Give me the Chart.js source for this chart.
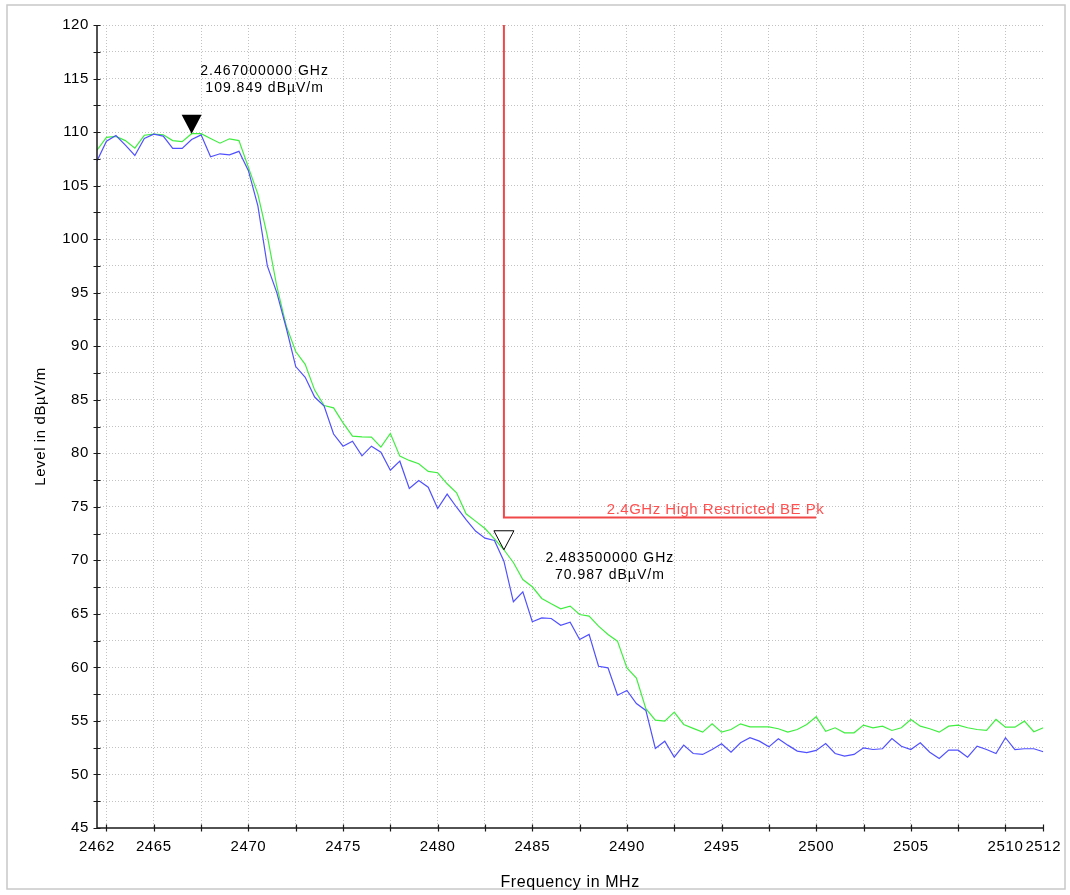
<!DOCTYPE html>
<html>
<head>
<meta charset="utf-8">
<script src="https://cdn.jsdelivr.net/npm/chart.js@4/dist/chart.umd.min.js"></script>
<style>
  html, body { margin: 0; padding: 0; background: #ffffff; }
  canvas { display: block; }
</style>
</head>
<body>
<canvas id="chart" width="1070" height="895"></canvas>
<script>
// Sweep frequencies (MHz)
const frequencies = [
  2462, 2462.5, 2463, 2463.5, 2464, 2464.5, 2465, 2465.5, 2466, 2466.5,
  2467, 2467.5, 2468, 2468.5, 2469, 2469.5, 2470, 2470.5, 2471, 2471.5,
  2472, 2472.5, 2473, 2473.5, 2474, 2474.5, 2475, 2475.5, 2476, 2476.5,
  2477, 2477.5, 2478, 2478.5, 2479, 2479.5, 2480, 2480.5, 2481, 2481.5,
  2482, 2482.5, 2483, 2483.5, 2484, 2484.5, 2485, 2485.5, 2486, 2486.5,
  2487, 2487.5, 2488, 2488.5, 2489, 2489.5, 2490, 2490.5, 2491, 2491.5,
  2492, 2492.5, 2493, 2493.5, 2494, 2494.5, 2495, 2495.5, 2496, 2496.5,
  2497, 2497.5, 2498, 2498.5, 2499, 2499.5, 2500, 2500.5, 2501, 2501.5,
  2502, 2502.5, 2503, 2503.5, 2504, 2504.5, 2505, 2505.5, 2506, 2506.5,
  2507, 2507.5, 2508, 2508.5, 2509, 2509.5, 2510, 2510.5, 2511, 2511.5,
  2512
];

// Max-hold trace (green), dBµV/m
const peakTrace = [
  108.3, 109.5, 109.6, 109.2, 108.5, 109.7, 109.8, 109.75, 109.2, 109.1,
  109.849, 109.85, 109.4, 108.96, 109.37, 109.2, 106.7, 104.2, 100.3, 95.6,
  91.9, 89.5, 88.3, 85.9, 84.46, 84.24, 82.84, 81.6, 81.54, 81.5,
  80.57, 81.85, 79.73, 79.33, 79.02, 78.3, 78.18, 77.15, 76.31, 74.35,
  73.66, 72.97, 72.0, 70.987, 69.8, 68.21, 67.53, 66.44, 65.94, 65.47,
  65.72, 64.94, 64.79, 63.85, 63.08, 62.45, 59.96, 59.0, 56.14, 55.07,
  54.98, 55.82, 54.67, 54.3, 53.95, 54.73, 53.95, 54.2, 54.73, 54.45,
  54.45, 54.45, 54.27, 53.95, 54.2, 54.67, 55.39, 54.04, 54.36, 53.89,
  53.89, 54.61, 54.36, 54.51, 54.11, 54.36, 55.14, 54.51, 54.27, 53.95,
  54.51, 54.61, 54.36, 54.2, 54.11, 55.14, 54.42, 54.42, 54.98, 53.99,
  54.36
];

// Second trace (blue), dBµV/m
const sweepTrace = [
  107.3, 109.15, 109.68, 108.78, 107.81, 109.4, 109.8, 109.62, 108.47, 108.47,
  109.31, 109.74, 107.69, 107.97, 107.88, 108.2, 106.4, 103.1, 97.5, 95.0,
  91.7, 88.1, 87.1, 85.25, 84.4, 81.8, 80.66, 81.13, 79.76, 80.66,
  80.1, 78.42, 79.26, 76.71, 77.46, 76.83, 74.84, 76.18, 74.96, 73.81,
  72.73, 72.07, 71.85, 69.92, 66.13, 67.06, 64.26, 64.63, 64.57, 63.94,
  64.22, 62.61, 63.08, 60.11, 59.96, 57.4, 57.85, 56.63, 55.98, 52.43,
  53.11, 51.62, 52.74, 51.96, 51.87, 52.33, 52.86, 52.08, 52.96, 53.43,
  53.11, 52.58, 53.33, 52.74, 52.18, 52.05, 52.25, 52.89, 51.96, 51.71,
  51.87, 52.49, 52.33, 52.4, 53.36, 52.64, 52.33, 52.96, 52.08, 51.49,
  52.27, 52.27, 51.62, 52.64, 52.33, 51.96, 53.43, 52.33, 52.4, 52.4,
  52.12
];

// Restricted-band limit line
const limitFreqs = [2483.5, 2483.5, 2500];
const limitLevels = [120, 74, 74];
const limitLabel = '2.4GHz High Restricted BE Pk';

// Markers
const markerFreqs = [2467.0, 2483.5];
const markerLevels = [109.849, 70.987];
const markerFilled = [true, false];

// Axis ticks
const xTickValues = [2462, 2462.5, 2465, 2467.5, 2470, 2472.5, 2475, 2477.5, 2480, 2482.5,
  2485, 2487.5, 2490, 2492.5, 2495, 2497.5, 2500, 2502.5, 2505, 2507.5, 2510, 2512];
const xTickLabels = [2462, 2465, 2470, 2475, 2480, 2485, 2490, 2495, 2500, 2505, 2510, 2512];
const yTickValues = [45, 47.5, 50, 52.5, 55, 57.5, 60, 62.5, 65, 67.5, 70, 72.5, 75, 77.5,
  80, 82.5, 85, 87.5, 90, 92.5, 95, 97.5, 100, 102.5, 105, 107.5, 110, 112.5, 115, 117.5, 120];
const yTickLabels = [45, 50, 55, 60, 65, 70, 75, 80, 85, 90, 95, 100, 105, 110, 115, 120];

const FONT = "'Liberation Sans', Arial, Helvetica, sans-serif";
Chart.defaults.font.family = FONT;
Chart.defaults.color = '#000000';

const GRID_COLOR = '#c2c2c2';

const toPoints = (xs, ys) => xs.map((x, i) => ({ x: x, y: ys[i] }));

// Frame, axis lines, crossing tick marks, markers and their read-outs
const decorations = {
  id: 'decorations',
  beforeDraw(chart) {
    const ctx = chart.ctx;
    ctx.save();
    ctx.fillStyle = '#ffffff';
    ctx.fillRect(0, 0, chart.width, chart.height);
    ctx.strokeStyle = '#c8c8c8';
    ctx.lineWidth = 1.5;
    ctx.strokeRect(7, 5, 1058, 884);
    ctx.restore();
    ctx.letterSpacing = '0.6px';
  },
  afterDraw(chart) {
    const ctx = chart.ctx;
    const xs = chart.scales.x, ys = chart.scales.y;
    const area = chart.chartArea;
    ctx.save();
    ctx.letterSpacing = '0px';
    ctx.strokeStyle = '#1a1a1a';
    ctx.lineWidth = 1.5;
    ctx.beginPath();
    ctx.moveTo(area.left, area.top);
    ctx.lineTo(area.left, area.bottom);
    ctx.lineTo(area.right, area.bottom);
    ctx.stroke();
    ctx.lineWidth = 1.2;
    ctx.beginPath();
    yTickValues.forEach(v => {
      const py = Math.round(ys.getPixelForValue(v)) + 0.5;
      ctx.moveTo(area.left - 3.5, py);
      ctx.lineTo(area.left + 3.5, py);
    });
    xTickValues.forEach(v => {
      if (v === xTickValues[0]) return;
      const px = Math.round(xs.getPixelForValue(v)) + 0.5;
      ctx.moveTo(px, area.bottom - 3.5);
      ctx.lineTo(px, area.bottom + 3.5);
    });
    ctx.stroke();

    // limit label
    ctx.letterSpacing = '0.5px';
    ctx.font = '15px ' + FONT;
    ctx.fillStyle = '#ff5050';
    ctx.textAlign = 'right';
    ctx.textBaseline = 'alphabetic';
    ctx.fillText(limitLabel,
      xs.getPixelForValue(limitFreqs[2]) + 8,
      ys.getPixelForValue(limitLevels[2]) - 4);

    // markers
    const labelOffsets = [[73, -59], [106, 12]];
    markerFreqs.forEach((f, i) => {
      const px = xs.getPixelForValue(f);
      const py = ys.getPixelForValue(markerLevels[i]);
      ctx.beginPath();
      ctx.moveTo(px - 10, py - 19);
      ctx.lineTo(px + 10, py - 19);
      ctx.lineTo(px, py);
      ctx.closePath();
      if (markerFilled[i]) {
        ctx.fillStyle = '#000000';
        ctx.fill();
      } else {
        ctx.fillStyle = '#ffffff';
        ctx.fill();
        ctx.strokeStyle = '#000000';
        ctx.lineWidth = 1;
        ctx.stroke();
      }
      ctx.letterSpacing = '1px';
      ctx.font = '14px ' + FONT;
      ctx.fillStyle = '#000000';
      ctx.textAlign = 'center';
      const lx = px + labelOffsets[i][0];
      const ly = py + labelOffsets[i][1];
      ctx.fillText((f / 1000).toFixed(9) + ' GHz', lx, ly);
      ctx.fillText(markerLevels[i].toFixed(3) + ' dBµV/m', lx, ly + 17.5);
    });
    ctx.restore();
  }
};

new Chart(document.getElementById('chart'), {
  type: 'line',
  data: {
    datasets: [
      {
        label: 'limit',
        data: toPoints(limitFreqs, limitLevels),
        borderColor: '#f04848',
        borderWidth: 2,
        pointRadius: 0,
        order: 0
      },
      {
        label: 'trace 2',
        data: toPoints(frequencies, sweepTrace),
        borderColor: '#5050ff',
        borderWidth: 1.2,
        pointRadius: 0,
        order: 1
      },
      {
        label: 'trace 1',
        data: toPoints(frequencies, peakTrace),
        borderColor: '#40ee40',
        borderWidth: 1.2,
        pointRadius: 0,
        order: 2
      }
    ]
  },
  options: {
    responsive: false,
    devicePixelRatio: 1,
    animation: false,
    events: [],
    layout: { padding: { top: 25, right: 24, left: 0, bottom: 0 } },
    elements: { line: { tension: 0, fill: false } },
    plugins: { legend: { display: false }, tooltip: { enabled: false } },
    scales: {
      x: {
        type: 'linear',
        min: 2462,
        max: 2512,
        afterBuildTicks: s => { s.ticks = xTickValues.map(v => ({ value: v })); },
        afterFit: s => { s.height = 67; },
        grid: {
          drawTicks: false,
          lineWidth: 1,
          color: c => (c.tick && (c.tick.value === 2462 || c.tick.value === 2512)) ? 'rgba(0,0,0,0)' : GRID_COLOR
        },
        border: { display: false, dash: [1, 2] },
        ticks: {
          autoSkip: false,
          maxRotation: 0,
          padding: 10,
          font: { size: 15 },
          callback: v => xTickLabels.includes(v) ? String(v) : ''
        },
        title: {
          display: true,
          text: 'Frequency in MHz',
          font: { size: 16 },
          padding: { top: 0, bottom: 3 }
        }
      },
      y: {
        type: 'linear',
        min: 45,
        max: 120,
        afterBuildTicks: s => { s.ticks = yTickValues.map(v => ({ value: v })); },
        afterFit: s => { s.width = 97; },
        grid: {
          drawTicks: false,
          lineWidth: 1,
          color: c => (c.tick && c.tick.value === 45) ? 'rgba(0,0,0,0)' : GRID_COLOR
        },
        border: { display: false, dash: [1, 2] },
        ticks: {
          autoSkip: false,
          padding: 8,
          font: { size: 15 },
          callback: v => yTickLabels.includes(v) ? String(v) : ''
        },
        title: {
          display: true,
          text: 'Level in dBµV/m',
          font: { size: 15 },
          padding: { top: 32, bottom: 0 }
        }
      }
    }
  },
  plugins: [decorations]
});
</script>
</body>
</html>
